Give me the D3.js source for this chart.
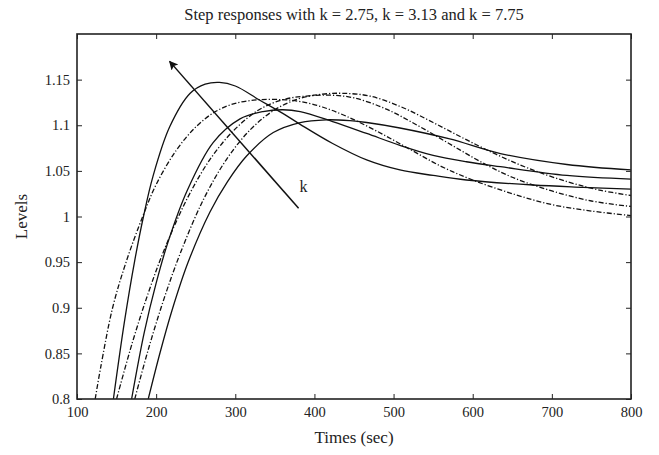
<!DOCTYPE html>
<html>
<head>
<meta charset="utf-8">
<script src="https://cdn.jsdelivr.net/npm/d3@7"></script>
<style>
  body { margin: 0; background: #fff; }
  svg text { font-family: "Liberation Serif", "Times New Roman", serif; fill: #222; }
</style>
</head>
<body>
<div id="container"></div>
<script>
var width = 659;
var height = 455;
var margin = {top: 34, right: 28, bottom: 56, left: 77};

// step responses, [time, level]
var solidA = [[146,0.80],[160,0.885],[173,0.952],[184,1.0],[196,1.044],[217,1.098],[243,1.135],[262,1.145],[280,1.147],[300,1.143],[330,1.128],[360,1.113],[382,1.101],[423,1.080],[466,1.062],[508,1.051],[550,1.045],[592,1.040],[676,1.0345],[740,1.032],[800,1.030]];
var solidB = [[169,0.80],[185,0.873],[200,0.927],[215,0.972],[239,1.028],[272,1.081],[306,1.107],[335,1.115],[360,1.117],[382,1.115],[423,1.104],[466,1.091],[508,1.078],[550,1.067],[592,1.060],[635,1.0546],[719,1.045],[800,1.041]];
var solidC = [[190,0.80],[205,0.851],[220,0.897],[240,0.949],[268,1.005],[290,1.038],[314,1.066],[348,1.092],[382,1.103],[415,1.106],[445,1.105],[466,1.103],[508,1.097],[571,1.085],[635,1.069],[719,1.057],[800,1.051]];
var dashA = [[123,0.80],[130,0.835],[145,0.90],[162,0.950],[183,1.0],[200,1.035],[225,1.072],[250,1.098],[275,1.115],[300,1.124],[330,1.128],[360,1.128],[382,1.126],[410,1.12],[440,1.11],[480,1.093],[520,1.074],[560,1.055],[600,1.040],[650,1.025],[700,1.013],[750,1.006],[800,1.001]];
var dashB = [[150,0.80],[170,0.862],[190,0.916],[210,0.963],[240,1.021],[270,1.065],[300,1.096],[330,1.117],[360,1.128],[390,1.132],[420,1.133],[450,1.13],[490,1.118],[530,1.10],[570,1.08],[610,1.06],[650,1.043],[700,1.028],[750,1.017],[800,1.011]];
var dashC = [[173,0.80],[190,0.854],[210,0.91],[232,0.963],[260,1.019],[290,1.064],[320,1.096],[350,1.117],[380,1.129],[410,1.134],[436,1.135],[470,1.132],[510,1.12],[550,1.103],[590,1.085],[630,1.068],[670,1.053],[720,1.038],[760,1.029],[800,1.023]];

var xTicks = [100, 200, 300, 400, 500, 600, 700, 800];
var yTicks = [0.8, 0.85, 0.9, 0.95, 1, 1.05, 1.1, 1.15];
var yTickLabels = ["0.8", "0.85", "0.9", "0.95", "1", "1.05", "1.1", "1.15"];

// arrow from [time, level] to [time, level]
var arrowFrom = [380, 1.009];
var arrowTo = [217, 1.170];
var arrowLabel = [381, 1.027];

var svg = d3.select("div#container").append("svg")
    .attr("width", width)
    .attr("height", height);

var w = width - margin.left - margin.right;
var h = height - margin.top - margin.bottom;

var x = d3.scaleLinear().domain([100, 800]).range([margin.left, margin.left + w]);
var y = d3.scaleLinear().domain([0.8, 1.2]).range([margin.top + h, margin.top]);

var defs = svg.append("defs");
defs.append("clipPath").attr("id", "plot")
  .append("rect")
    .attr("x", margin.left).attr("y", margin.top)
    .attr("width", w).attr("height", h);

defs.append("marker")
    .attr("id", "head")
    .attr("viewBox", "0 0 10 10")
    .attr("refX", 9).attr("refY", 5)
    .attr("markerWidth", 11).attr("markerHeight", 9)
    .attr("markerUnits", "userSpaceOnUse")
    .attr("orient", "auto")
  .append("path")
    .attr("d", "M0,0 L10,5 L0,10 L2,5 Z")
    .attr("fill", "#111");

var line = d3.line()
    .x(function(d) { return x(d[0]); })
    .y(function(d) { return y(d[1]); })
    .curve(d3.curveCatmullRom.alpha(0.5));

var curves = [
  {data: solidA, dash: null},
  {data: solidB, dash: null},
  {data: solidC, dash: null},
  {data: dashA, dash: "5,2,1.2,2"},
  {data: dashB, dash: "5,2,1.2,2"},
  {data: dashC, dash: "5,2,1.2,2"}
];

svg.append("g").attr("clip-path", "url(#plot)")
  .selectAll("path")
  .data(curves)
  .enter()
  .append("path")
    .attr("d", function(d) { return line(d.data); })
    .attr("fill", "none")
    .attr("stroke", "#111")
    .attr("stroke-width", 1.3)
    .attr("stroke-dasharray", function(d) { return d.dash; });

// axes, MATLAB style ticks pointing inside on every side
svg.append("g")
    .attr("transform", "translate(0," + (margin.top + h) + ")")
    .call(d3.axisBottom(x).tickValues(xTicks).tickSizeInner(-5).tickSizeOuter(0).tickPadding(8))
    .call(function(g) { g.select(".domain").remove(); });
svg.append("g")
    .attr("transform", "translate(0," + margin.top + ")")
    .call(d3.axisTop(x).tickValues(xTicks).tickSizeInner(-5).tickSizeOuter(0).tickFormat(""))
    .call(function(g) { g.select(".domain").remove(); });
svg.append("g")
    .attr("transform", "translate(" + margin.left + ",0)")
    .call(d3.axisLeft(y).tickValues(yTicks).tickSizeInner(-5).tickSizeOuter(0).tickPadding(7)
      .tickFormat(function(d, i) { return yTickLabels[i]; }))
    .call(function(g) { g.select(".domain").remove(); });
svg.append("g")
    .attr("transform", "translate(" + (margin.left + w) + ",0)")
    .call(d3.axisRight(y).tickValues(yTicks).tickSizeInner(-5).tickSizeOuter(0).tickFormat(""))
    .call(function(g) { g.select(".domain").remove(); });

svg.selectAll(".tick line").attr("stroke", "#222");
svg.selectAll(".tick text")
    .attr("font-size", 14.5)
    .attr("font-family", "Liberation Serif, serif")
    .attr("fill", "#222");

svg.append("rect")
    .attr("x", margin.left).attr("y", margin.top)
    .attr("width", w).attr("height", h)
    .attr("fill", "none")
    .attr("stroke", "#222")
    .attr("stroke-width", 1.6);

// arrow and k label
svg.append("line")
    .attr("x1", x(arrowFrom[0])).attr("y1", y(arrowFrom[1]))
    .attr("x2", x(arrowTo[0])).attr("y2", y(arrowTo[1]))
    .attr("stroke", "#111")
    .attr("stroke-width", 1.5)
    .attr("marker-end", "url(#head)");

svg.append("text")
    .attr("x", x(arrowLabel[0])).attr("y", y(arrowLabel[1]))
    .attr("font-size", 16)
    .text("k");

// titles
svg.append("text")
    .attr("x", margin.left + w / 2).attr("y", 20)
    .attr("text-anchor", "middle")
    .attr("font-size", 16.5)
    .text("Step responses with k = 2.75, k = 3.13 and k = 7.75");

svg.append("text")
    .attr("x", margin.left + w / 2).attr("y", 443)
    .attr("text-anchor", "middle")
    .attr("font-size", 17)
    .text("Times (sec)");

svg.append("text")
    .attr("transform", "translate(27," + (margin.top + h / 2) + ") rotate(-90)")
    .attr("text-anchor", "middle")
    .attr("font-size", 17)
    .text("Levels");
</script>
</body>
</html>
